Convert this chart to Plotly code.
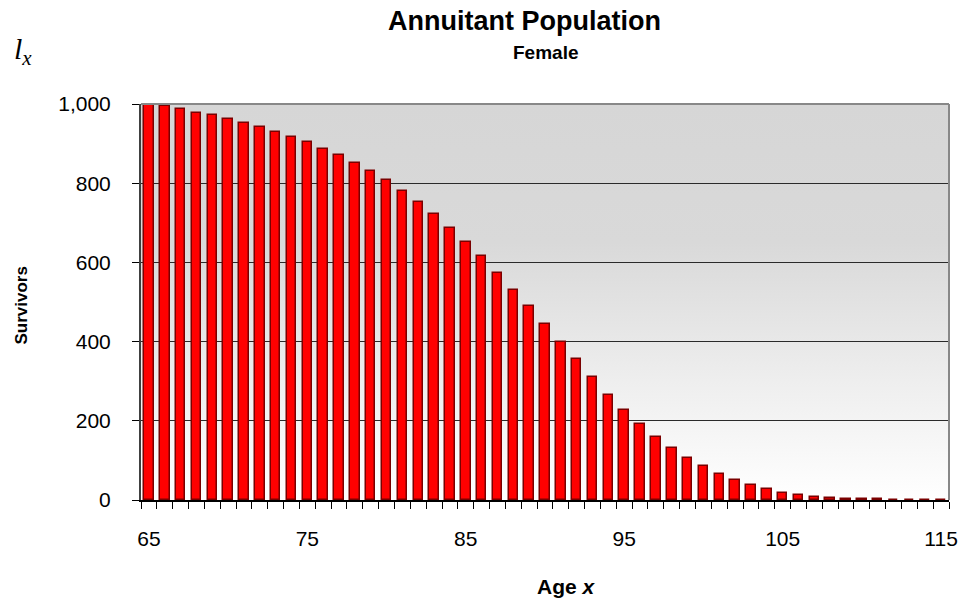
import base64
import plotly.graph_objects as go

ages = list(range(65, 116))
survivors = [1000, 995, 988, 978, 971, 962, 952, 943, 929, 917,
             903, 887, 871, 852, 830, 807, 781, 752, 722, 687,
             651, 615, 574, 531, 490, 444, 398, 355, 310, 265,
             228, 191, 160, 131, 105, 86, 66, 50, 38, 27,
             18, 12, 8, 5, 3, 2, 2, 1, 1, 1, 1]
x_tick_vals = [65, 75, 85, 95, 105, 115]
x_tick_text = ["65", "75", "85", "95", "105", "115"]
y_tick_vals = [0, 200, 400, 600, 800, 1000]

title_text = "<b>Annuitant Population</b>"
subtitle_text = "<b>Female</b>"
y_title = "<b>Survivors</b>"
x_title = "<b>Age <i>x</i></b>"
corner_label = "<i>l<sub>x</sub></i>"

FONT = "Arial, Liberation Sans, sans-serif"
L, R, T, B = 141, 12, 104, 102
PW = 961 - L - R
PH = 602 - T - B


def px_x(px):
    return (px - L) / PW


def px_y(py):
    return (602 - B - py) / PH


svg = (
    '<svg xmlns="http://www.w3.org/2000/svg" width="100" height="100" '
    'viewBox="0 0 100 100" preserveAspectRatio="none">'
    '<defs><linearGradient id="g" x1="0" y1="0" x2="0" y2="1">'
    '<stop offset="0" stop-color="#d6d6d6"/>'
    '<stop offset="0.35" stop-color="#d9d9d9"/>'
    '<stop offset="0.7" stop-color="#eeeeee"/>'
    '<stop offset="1" stop-color="#ffffff"/>'
    '</linearGradient></defs>'
    '<rect x="0" y="0" width="100" height="100" fill="url(#g)"/></svg>'
)
bg_src = "data:image/svg+xml;base64," + base64.b64encode(svg.encode()).decode()

fig = go.Figure()
fig.add_trace(go.Bar(
    x=ages, y=survivors, width=0.6,
    marker=dict(color="#ff0000", line=dict(color="#7a0000", width=1.5)),
    hoverinfo="x+y",
))

fig.update_layout(
    width=961, height=602,
    margin=dict(l=L, r=R, t=T, b=B),
    paper_bgcolor="white",
    plot_bgcolor="rgba(0,0,0,0)",
    showlegend=False,
    font=dict(family=FONT, color="black"),
    bargap=0,
    images=[dict(source=bg_src, xref="paper", yref="paper", x=0, y=1,
                 sizex=1, sizey=1, xanchor="left", yanchor="top",
                 sizing="stretch", layer="below")],
    xaxis=dict(
        range=[64.5, 115.5], automargin=False,
        tickmode="array", tickvals=x_tick_vals, ticktext=x_tick_text,
        ticks="", showgrid=False, zeroline=False,
        showline=True, linecolor="black", linewidth=1.5,
        tickfont=dict(size=21, family=FONT),
        ticklabelstandoff=19, ticklabeloverflow="allow",
        minor=dict(tickmode="linear", tick0=64.5, dtick=1, ticks="outside",
                   ticklen=7, tickcolor="black", tickwidth=1, showgrid=False),
    ),
    yaxis=dict(
        range=[0, 1000], automargin=False,
        tickmode="array", tickvals=y_tick_vals,
        tickformat=",d",
        ticks="outside", ticklen=7, tickcolor="black",
        showgrid=True, gridcolor="#2a2a2a", gridwidth=1,
        zeroline=False,
        showline=True, linecolor="#404040", linewidth=2,
        tickfont=dict(size=21, family=FONT),
        ticklabelstandoff=17,
    ),
    shapes=[
        dict(type="line", xref="paper", yref="paper", x0=0, x1=1, y0=1, y1=1,
             line=dict(color="#888888", width=2), layer="above"),
        dict(type="line", xref="paper", yref="paper", x0=1, x1=1, y0=0, y1=1,
             line=dict(color="#888888", width=2), layer="above"),
    ],
    annotations=[
        dict(text=title_text, xref="paper", yref="paper", x=px_x(386),
             y=px_y(21), xanchor="left", yanchor="middle",
             showarrow=False, font=dict(size=27, family=FONT)),
        dict(text=subtitle_text, xref="paper", yref="paper", x=px_x(545),
             y=px_y(52), xanchor="center", yanchor="middle",
             showarrow=False, font=dict(size=19, family=FONT)),
        dict(text=corner_label, xref="paper", yref="paper", x=px_x(12),
             y=px_y(51), xanchor="left", yanchor="middle",
             showarrow=False,
             font=dict(size=30, family="Liberation Serif, Times New Roman, serif")),
        dict(text=y_title, xref="paper", yref="paper", x=px_x(20.5),
             y=px_y(306), xanchor="center", yanchor="middle", textangle=-90,
             showarrow=False, font=dict(size=17, family=FONT)),
        dict(text=x_title, xref="paper", yref="paper", x=px_x(535),
             y=px_y(586), xanchor="left", yanchor="middle",
             showarrow=False, font=dict(size=21, family=FONT)),
    ],
)

fig.write_html(
    "out.html",
    config={"displayModeBar": False},
    post_script="document.body.style.margin='0';document.body.style.overflow='hidden';",
)
